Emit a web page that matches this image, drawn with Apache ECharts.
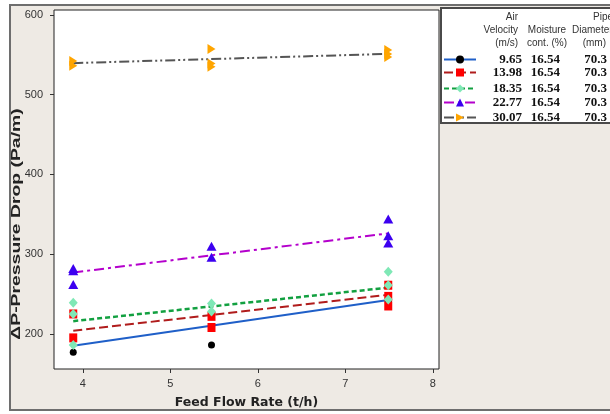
<!DOCTYPE html>
<html><head><meta charset="utf-8">
<script src="https://cdn.jsdelivr.net/npm/echarts@6/dist/echarts.min.js"></script>
<style>html,body{margin:0;padding:0;background:#fff}#c{width:610px;height:414px}</style>
</head><body><div id="c"></div>
<script>
// ---- data ----
const airVelocity = ['9.65', '13.98', '18.35', '22.77', '30.07'];
const moisture = ['16.54', '16.54', '16.54', '16.54', '16.54'];
const pipeDiameter = ['70.3', '70.3', '70.3', '70.3', '70.3'];
const xTicks = [4, 5, 6, 7, 8];
const yTicks = [200, 300, 400, 500, 600];

const pts965 = [[3.89, 177], [5.47, 186], [7.49, 241]];
const pts1398 = [[3.89, 195], [3.89, 225], [5.47, 208], [5.47, 222], [7.49, 235], [7.49, 247], [7.49, 261]];
const pts1835 = [[3.89, 186], [3.89, 225], [3.89, 239], [5.47, 228], [5.47, 238], [7.49, 243], [7.49, 261], [7.49, 278]];
const pts2277 = [[3.89, 262], [3.89, 279], [3.89, 282], [5.47, 296], [5.47, 310], [7.49, 314], [7.49, 323], [7.49, 344]];
const pts3007 = [[3.89, 536], [3.89, 542], [5.47, 535], [5.47, 539], [5.47, 557], [7.49, 547], [7.49, 551], [7.49, 556]];

const fit965 = [[3.89, 185], [7.49, 242.6]];
const fit1398 = [[3.89, 204], [7.49, 249]];
const fit1835 = [[3.89, 216], [7.49, 258]];
const fit2277 = [[3.89, 277], [7.49, 326]];
const fit3007 = [[3.89, 539.4], [7.49, 551]];

// ---- styles ----
const pointSets = [pts965, pts1398, pts1835, pts2277, pts3007];
const fitSets = [fit965, fit1398, fit1835, fit2277, fit3007];
const lineColors = ['#1f5fc8', '#b01c1c', '#12a040', '#b400cc', '#555555'];
const lineTypes = ['solid', [9, 4], [5, 3], [10, 4, 3, 4], [10, 3, 2, 3, 2, 3]];
const lineWidths = [2, 2, 2.5, 2, 2];
const markColors = ['#000000', '#ff0000', '#7fe8b6', '#3c00f0', '#ffa500'];
const markShapes = ['circle', 'rect', 'diamond', 'triangle', 'path://M0,0L10,6L0,12Z'];
const markSizes = [7, [8, 9], [9, 10], [10, 9], [8, 10]];
const legendRowY = [58, 71, 87, 101, 116];

const FONT = "'Liberation Sans',Arial,sans-serif";
const series = [];
for (let i = 0; i < 5; i++) {
  series.push({
    type: 'line', name: airVelocity[i], data: fitSets[i], showSymbol: false,
    symbol: markShapes[i], symbolSize: markSizes[i],
    itemStyle: { color: markColors[i] },
    lineStyle: { color: lineColors[i], type: lineTypes[i], width: lineWidths[i] },
    z: 2, silent: true, animation: false
  });
}
for (let i = 0; i < 5; i++) {
  series.push({
    type: 'scatter', name: airVelocity[i] + ' ', data: pointSets[i],
    symbol: markShapes[i], symbolSize: markSizes[i],
    itemStyle: { color: markColors[i], opacity: 1 }, z: 3 + i, animation: false
  });
}
const SERIF = "'Liberation Serif','Times New Roman',serif";
const legends = airVelocity.map((v, i) => ({
  data: [v], left: 443, top: legendRowY[i] - 5, itemWidth: 32, itemHeight: 10,
  selectedMode: false, padding: 0,
  formatter: n => '{v|' + n + '}{m|' + moisture[i] + '}{d|' + pipeDiameter[i] + '}',
  textStyle: {
    rich: {
      v: { width: 41, align: 'right', fontFamily: SERIF, fontWeight: 'bold', fontSize: 13, color: '#111' },
      m: { width: 38, align: 'right', fontFamily: SERIF, fontWeight: 'bold', fontSize: 13, color: '#111' },
      d: { width: 47, align: 'right', fontFamily: SERIF, fontWeight: 'bold', fontSize: 13, color: '#111' }
    }
  }
}));
const hdr = (t, x, y, align) => ({ type: 'text', x, y, z: 10, style: { text: t, font: "10px 'Liberation Sans',Arial,sans-serif", fill: '#333', align, verticalAlign: 'middle' } });

const chart = echarts.init(document.getElementById('c'), null, { renderer: 'canvas' });
chart.setOption({
  animation: false,
  backgroundColor: '#ffffff',
  grid: { left: 54, right: 171, top: 10, bottom: 45, show: true, backgroundColor: '#ffffff', borderColor: '#222', borderWidth: 1 },
  xAxis: {
    type: 'value', min: 3.67, max: 8.07,
    axisLine: { show: false }, splitLine: { show: false },
    axisTick: { show: true, length: 4, customValues: xTicks, lineStyle: { color: '#333' } },
    axisLabel: { customValues: xTicks, margin: 9, fontSize: 11, color: '#333', fontFamily: FONT },
    name: 'Feed Flow Rate (t/h)', nameLocation: 'middle', nameGap: 27,
    nameTextStyle: { fontSize: 12.5, fontWeight: 'bold', color: '#222', fontFamily: "'DejaVu Sans','Liberation Sans',sans-serif" }
  },
  yAxis: {
    type: 'value', min: 156, max: 606,
    axisLine: { show: false }, splitLine: { show: false },
    axisTick: { show: true, length: 4, customValues: yTicks, lineStyle: { color: '#333' } },
    axisLabel: { customValues: yTicks, margin: 11, fontSize: 11, color: '#333', fontFamily: FONT }
  },
  legend: legends,
  graphic: [
    { type: 'rect', z: -2, silent: true, shape: { x: 10, y: 5, width: 620, height: 405 }, style: { fill: '#eeeae4', stroke: '#6e6e6e', lineWidth: 2 } },
    { type: 'rect', z: -1, silent: true, shape: { x: 441, y: 8, width: 200, height: 115 }, style: { fill: '#ffffff', stroke: '#4a4a4a', lineWidth: 2 } },
    hdr('Air', 518, 17, 'right'), hdr('Velocity', 518, 30, 'right'), hdr('(m/s)', 518, 43, 'right'),
    hdr('Moisture', 547, 30, 'center'), hdr('cont. (%)', 547, 43, 'center'),
    hdr('Pipe', 593, 17, 'left'), hdr('Diameter', 572, 30, 'left'), hdr('(mm)', 606, 43, 'right'),
    { type: 'text', x: 17, y: 224, rotation: Math.PI / 2, scaleX: 1.55, z: 10,
      style: { text: 'ΔP-Pressure Drop (Pa/m)', font: "bold 12.5px 'Liberation Sans',Arial,sans-serif", fill: '#222', align: 'center', verticalAlign: 'middle' } }
  ],
  series
});
</script></body></html>
